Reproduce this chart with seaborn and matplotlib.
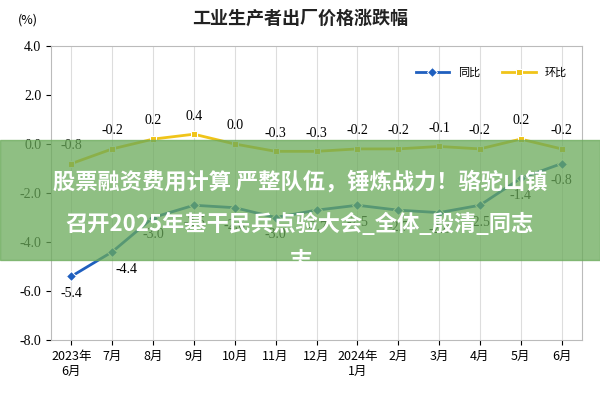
import matplotlib
matplotlib.use("Agg")
import matplotlib.pyplot as plt
import seaborn as sns
import pandas as pd

months = ["2023年\n6月","7月","8月","9月","10月","11月","12月","2024年\n1月","2月","3月","4月","5月","6月"]
yoy = [-5.4,-4.4,-3.0,-2.5,-2.6,-3.0,-2.7,-2.5,-2.7,-2.8,-2.5,-1.4,-0.8]
mom = [-0.8,-0.2,0.2,0.4,0.0,-0.3,-0.3,-0.2,-0.2,-0.1,-0.2,0.2,-0.2]

plt.rcParams["font.family"] = "Noto Sans CJK SC"
fig = plt.figure(figsize=(6,4), dpi=100)
ax = fig.add_axes([0.085, 0.15, 0.885, 0.735])
x = list(range(len(months)))
df = pd.DataFrame({"x": x, "同比": yoy, "环比": mom})
sns.lineplot(data=df, x="x", y="同比", ax=ax, color="#1f5fbf", marker="D", markersize=5, lw=2, label="同比")
sns.lineplot(data=df, x="x", y="环比", ax=ax, color="#f0c419", marker="s", markersize=5, lw=2, label="环比")
for i,(a,b) in enumerate(zip(yoy, mom)):
    dx = 0.35 if i == 1 else 0
    ax.text(i+dx, a-0.85, f"{a:.1f}", ha="center", fontsize=10, family="Liberation Serif")
    ax.text(i, b+0.6, f"{b:.1f}", ha="center", fontsize=10, family="Liberation Serif")
ax.set_xlim(-0.5, len(months)-0.5)
ax.set_ylim(-8, 4)
ax.set_yticks([-8,-6,-4,-2,0,2,4])
ax.set_yticklabels([f"{v:.1f}" for v in [-8,-6,-4,-2,0,2,4]], family="Liberation Serif", fontsize=10)
ax.set_xticks(x)
ax.set_xticklabels(months, fontsize=9)
ax.set_xlabel(""); ax.set_ylabel("")
ax.grid(axis="x", color="#dddddd", lw=0.8)
for s in ax.spines.values():
    s.set_color("#bbbbbb")
ax.legend(loc="upper right", bbox_to_anchor=(0.99, 0.96), ncol=2, frameon=False, fontsize=8, handlelength=3)
fig.text(0.5, 0.94, "工业生产者出厂价格涨跌幅", ha="center", fontsize=13, weight="bold", color="#222222")
fig.text(0.03, 0.94, "(%)", fontsize=9)
fig.patches.append(matplotlib.patches.Rectangle((0,0.35),1,0.3,transform=fig.transFigure,color="#6aaa5a",alpha=0.75,zorder=5))
fig.text(0.5, 0.545, "股票融资费用计算 严整队伍，锤炼战力！骆驼山镇", ha="center", va="center", fontsize=16, weight="bold", color="white", zorder=6)
fig.text(0.5, 0.44, "召开2025年基干民兵点验大会_全体_殷清_同志", ha="center", va="center", fontsize=16, weight="bold", color="white", zorder=6)
fig.text(0.5, 0.345, "志", ha="center", va="center", fontsize=16, weight="bold", color="white", zorder=6)
fig.savefig("out.png")
